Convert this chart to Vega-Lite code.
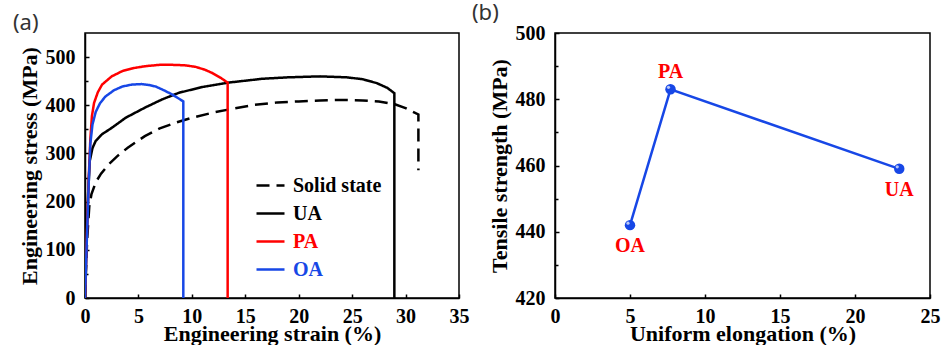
{
  "$schema": "https://vega.github.io/schema/vega-lite/v6.json",
  "background": "white",
  "padding": {"left": 12, "top": 1, "right": 5, "bottom": 0},
  "spacing": 1,
  "datasets": {
    "curves": [
      {"series": "Solid state", "order": 1, "strain": 0, "stress": 0},
      {"series": "Solid state", "order": 2, "strain": 0.2, "stress": 120},
      {"series": "Solid state", "order": 3, "strain": 0.4, "stress": 190},
      {"series": "Solid state", "order": 4, "strain": 0.6, "stress": 215},
      {"series": "Solid state", "order": 5, "strain": 1.0, "stress": 240},
      {"series": "Solid state", "order": 6, "strain": 1.5, "stress": 258},
      {"series": "Solid state", "order": 7, "strain": 2.2, "stress": 277},
      {"series": "Solid state", "order": 8, "strain": 3.0, "stress": 294},
      {"series": "Solid state", "order": 9, "strain": 4.0, "stress": 312},
      {"series": "Solid state", "order": 10, "strain": 5.6, "stress": 336},
      {"series": "Solid state", "order": 11, "strain": 7.0, "stress": 352},
      {"series": "Solid state", "order": 12, "strain": 8.5, "stress": 364},
      {"series": "Solid state", "order": 13, "strain": 10.0, "stress": 374},
      {"series": "Solid state", "order": 14, "strain": 12.0, "stress": 385},
      {"series": "Solid state", "order": 15, "strain": 13.4, "stress": 391},
      {"series": "Solid state", "order": 16, "strain": 15.9, "stress": 401},
      {"series": "Solid state", "order": 17, "strain": 18.0, "stress": 406},
      {"series": "Solid state", "order": 18, "strain": 20.0, "stress": 408},
      {"series": "Solid state", "order": 19, "strain": 22.0, "stress": 410},
      {"series": "Solid state", "order": 20, "strain": 24.0, "stress": 411},
      {"series": "Solid state", "order": 21, "strain": 26.0, "stress": 410},
      {"series": "Solid state", "order": 22, "strain": 27.5, "stress": 408},
      {"series": "Solid state", "order": 23, "strain": 29.0, "stress": 402},
      {"series": "Solid state", "order": 24, "strain": 30.0, "stress": 394},
      {"series": "Solid state", "order": 25, "strain": 31.2, "stress": 381},
      {"series": "Solid state", "order": 26, "strain": 31.2, "stress": 265},
      {"series": "UA", "order": 1, "strain": 0, "stress": 0},
      {"series": "UA", "order": 2, "strain": 0.15, "stress": 120},
      {"series": "UA", "order": 3, "strain": 0.3, "stress": 220},
      {"series": "UA", "order": 4, "strain": 0.45, "stress": 285},
      {"series": "UA", "order": 5, "strain": 0.7, "stress": 311},
      {"series": "UA", "order": 6, "strain": 1.0, "stress": 326},
      {"series": "UA", "order": 7, "strain": 1.6, "stress": 340},
      {"series": "UA", "order": 8, "strain": 2.5, "stress": 353},
      {"series": "UA", "order": 9, "strain": 3.8, "stress": 374},
      {"series": "UA", "order": 10, "strain": 5.6, "stress": 395},
      {"series": "UA", "order": 11, "strain": 7.2, "stress": 412},
      {"series": "UA", "order": 12, "strain": 8.8, "stress": 426},
      {"series": "UA", "order": 13, "strain": 11.0, "stress": 438},
      {"series": "UA", "order": 14, "strain": 13.4, "stress": 447},
      {"series": "UA", "order": 15, "strain": 16.6, "stress": 455},
      {"series": "UA", "order": 16, "strain": 19.0, "stress": 458},
      {"series": "UA", "order": 17, "strain": 22.0, "stress": 460},
      {"series": "UA", "order": 18, "strain": 24.5, "stress": 458},
      {"series": "UA", "order": 19, "strain": 26.0, "stress": 454},
      {"series": "UA", "order": 20, "strain": 27.3, "stress": 446},
      {"series": "UA", "order": 21, "strain": 28.3, "stress": 436},
      {"series": "UA", "order": 22, "strain": 28.95, "stress": 425},
      {"series": "UA", "order": 23, "strain": 28.95, "stress": 0},
      {"series": "PA", "order": 1, "strain": 0, "stress": 0},
      {"series": "PA", "order": 2, "strain": 0.2, "stress": 150},
      {"series": "PA", "order": 3, "strain": 0.35, "stress": 250},
      {"series": "PA", "order": 4, "strain": 0.5, "stress": 330},
      {"series": "PA", "order": 5, "strain": 0.65, "stress": 378},
      {"series": "PA", "order": 6, "strain": 0.85, "stress": 405},
      {"series": "PA", "order": 7, "strain": 1.2, "stress": 427},
      {"series": "PA", "order": 8, "strain": 1.6, "stress": 443},
      {"series": "PA", "order": 9, "strain": 2.5, "stress": 460},
      {"series": "PA", "order": 10, "strain": 3.5, "stress": 471},
      {"series": "PA", "order": 11, "strain": 4.5, "stress": 477},
      {"series": "PA", "order": 12, "strain": 5.6, "stress": 481},
      {"series": "PA", "order": 13, "strain": 7.0, "stress": 484},
      {"series": "PA", "order": 14, "strain": 8.1, "stress": 484},
      {"series": "PA", "order": 15, "strain": 9.3, "stress": 483},
      {"series": "PA", "order": 16, "strain": 10.3, "stress": 480},
      {"series": "PA", "order": 17, "strain": 11.2, "stress": 474},
      {"series": "PA", "order": 18, "strain": 11.9, "stress": 467},
      {"series": "PA", "order": 19, "strain": 12.7, "stress": 457},
      {"series": "PA", "order": 20, "strain": 13.35, "stress": 447},
      {"series": "PA", "order": 21, "strain": 13.35, "stress": 0},
      {"series": "OA", "order": 1, "strain": 0, "stress": 0},
      {"series": "OA", "order": 2, "strain": 0.2, "stress": 140},
      {"series": "OA", "order": 3, "strain": 0.35, "stress": 240},
      {"series": "OA", "order": 4, "strain": 0.5, "stress": 320},
      {"series": "OA", "order": 5, "strain": 0.7, "stress": 360},
      {"series": "OA", "order": 6, "strain": 1.0, "stress": 386},
      {"series": "OA", "order": 7, "strain": 1.4, "stress": 404},
      {"series": "OA", "order": 8, "strain": 1.9, "stress": 418},
      {"series": "OA", "order": 9, "strain": 2.7, "stress": 431},
      {"series": "OA", "order": 10, "strain": 3.5, "stress": 439},
      {"series": "OA", "order": 11, "strain": 4.4, "stress": 443},
      {"series": "OA", "order": 12, "strain": 5.3, "stress": 444},
      {"series": "OA", "order": 13, "strain": 6.0, "stress": 442},
      {"series": "OA", "order": 14, "strain": 6.6, "stress": 439},
      {"series": "OA", "order": 15, "strain": 7.4, "stress": 431},
      {"series": "OA", "order": 16, "strain": 8.1, "stress": 423},
      {"series": "OA", "order": 17, "strain": 8.7, "stress": 415},
      {"series": "OA", "order": 18, "strain": 9.2, "stress": 408},
      {"series": "OA", "order": 19, "strain": 9.2, "stress": 0}
    ],
    "summary": [
      {"sample": "OA", "elong": 5.0, "ts": 442},
      {"sample": "PA", "elong": 7.7, "ts": 483},
      {"sample": "UA", "elong": 22.95, "ts": 459}
    ]
  },
  "config": {
    "font": "Liberation Serif",
    "view": {"stroke": "black", "strokeWidth": 1.5},
    "axis": {
      "domainColor": "black", "domainWidth": 1.5,
      "tickColor": "black", "tickWidth": 1.5, "tickSize": -4,
      "labelFont": "Liberation Serif", "labelFontWeight": "bold", "labelFontSize": 20, "labelColor": "black",
      "titleFont": "Liberation Serif", "titleFontWeight": "bold", "titleFontSize": 22, "titleColor": "black",
      "grid": false, "labelFlush": false, "labelOverlap": false
    },
    "axisX": {"labelPadding": 12, "titlePadding": -3},
    "axisY": {"labelPadding": 14, "titlePadding": 4},
    "title": {"font": "Noto Sans", "fontWeight": "normal", "fontSize": 22, "anchor": "start", "color": "#333333", "offset": -2}
  },
  "hconcat": [
    {
      "title": {"text": "(a)", "dx": -5},
      "width": 374,
      "height": 265,
      "data": {"name": "curves"},
      "mark": {"type": "line", "strokeWidth": 2.5, "clip": true},
      "encoding": {
        "x": {"field": "strain", "type": "quantitative", "scale": {"domain": [0, 35], "nice": false},
          "axis": {"values": [0, 5, 10, 15, 20, 25, 30, 35], "title": "Engineering strain (%)"}},
        "y": {"field": "stress", "type": "quantitative", "scale": {"domain": [0, 550], "nice": false},
          "axis": {"values": [0, 50, 100, 150, 200, 250, 300, 350, 400, 450, 500],
            "labelExpr": "datum.value % 100 === 0 ? datum.label : ''",
            "tickSize": {"condition": {"test": "datum.value % 100 !== 0", "value": -3}, "value": -4},
            "title": "Engineering stress (MPa)"}},
        "order": {"field": "order", "type": "quantitative"},
        "color": {"field": "series", "type": "nominal",
          "scale": {"domain": ["Solid state", "UA", "PA", "OA"], "range": ["#000000", "#000000", "#ff0000", "#1747e6"]},
          "legend": {"orient": "none", "legendX": 170, "legendY": 137, "title": null, "symbolType": "stroke",
            "symbolSize": 784, "symbolStrokeWidth": 2.5, "labelFont": "Liberation Serif", "labelFontSize": 20,
            "labelFontWeight": "bold", "rowPadding": 2, "labelOffset": 7,
            "encode": {"labels": {"update": {"fill": {"signal": "datum.label === 'PA' ? '#ff0000' : (datum.label === 'OA' ? '#1747e6' : '#000000')"}}}}}},
        "strokeDash": {"field": "series", "type": "nominal",
          "scale": {"domain": ["Solid state", "UA", "PA", "OA"], "range": [[13, 7], [1, 0], [1, 0], [1, 0]]},
          "legend": {"orient": "none", "legendX": 170, "legendY": 137, "title": null, "symbolType": "stroke",
            "symbolSize": 784, "symbolStrokeWidth": 2.5, "labelFont": "Liberation Serif", "labelFontSize": 20,
            "labelFontWeight": "bold", "rowPadding": 2, "labelOffset": 7,
            "encode": {"labels": {"update": {"fill": {"signal": "datum.label === 'PA' ? '#ff0000' : (datum.label === 'OA' ? '#1747e6' : '#000000')"}}}}}}
      }
    },
    {
      "title": {"text": "(b)", "dx": -16},
      "width": 375,
      "height": 265,
      "data": {"name": "summary"},
      "encoding": {
        "x": {"field": "elong", "type": "quantitative", "scale": {"domain": [0, 25], "nice": false},
          "axis": {"values": [0, 5, 10, 15, 20, 25], "title": "Uniform elongation (%)"}},
        "y": {"field": "ts", "type": "quantitative", "scale": {"domain": [420, 500], "nice": false, "zero": false},
          "axis": {"values": [420, 430, 440, 450, 460, 470, 480, 490, 500],
            "labelExpr": "datum.value % 20 === 0 ? datum.label : ''",
            "tickSize": {"condition": {"test": "datum.value % 20 !== 0", "value": -3}, "value": -4},
            "title": "Tensile strength (MPa)"}}
      },
      "layer": [
        {"mark": {"type": "line", "color": "#1747e6", "strokeWidth": 2.5}},
        {"mark": {"type": "point", "filled": true, "color": "#1747e6", "size": 110, "opacity": 1}},
        {"mark": {"type": "point", "filled": true, "color": "#ffffff", "size": 10, "xOffset": -2, "yOffset": -2, "opacity": 0.7}},
        {"transform": [{"filter": "datum.sample === 'PA'"}],
          "mark": {"type": "text", "color": "#ff0000", "font": "Liberation Serif", "fontWeight": "bold", "fontSize": 20, "dy": -17},
          "encoding": {"text": {"field": "sample"}}},
        {"transform": [{"filter": "datum.sample !== 'PA'"}],
          "mark": {"type": "text", "color": "#ff0000", "font": "Liberation Serif", "fontWeight": "bold", "fontSize": 20, "dy": 21},
          "encoding": {"text": {"field": "sample"}}}
      ]
    }
  ]
}
